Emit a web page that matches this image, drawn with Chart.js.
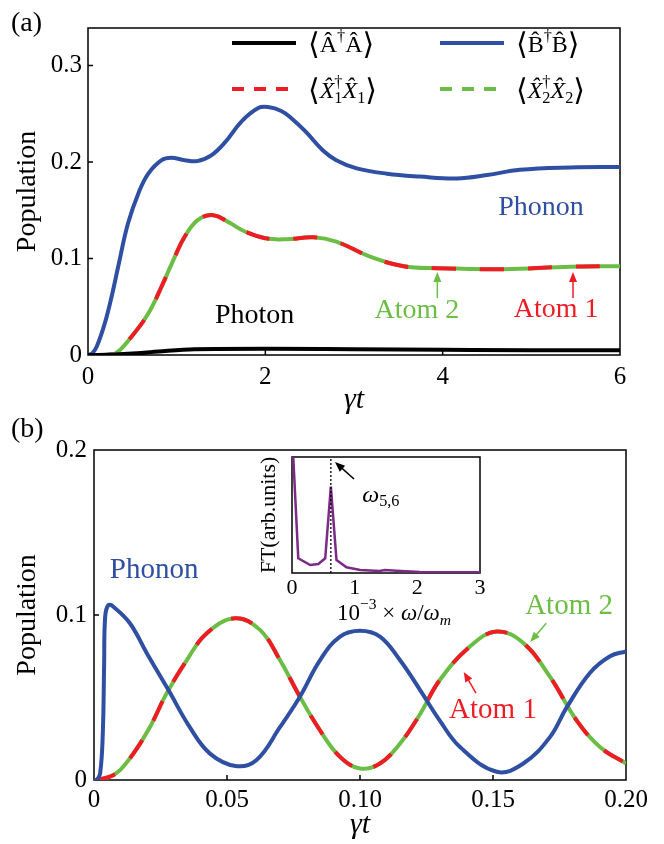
<!DOCTYPE html>
<html>
<head>
<meta charset="utf-8">
<script src="https://cdn.jsdelivr.net/npm/chart.js@4.4.0/dist/chart.umd.min.js"></script>
<style>
  html, body { margin: 0; padding: 0; background: #fff; }
  #page { position: relative; width: 664px; height: 844px; overflow: hidden; }
  .box { position: absolute; }
  .tag { position: absolute; font: 28px 'Liberation Serif', serif; line-height: 28px; color: #000; }
</style>
</head>
<body>
<div id="page">
  <div class="box" style="left:0;top:0"><canvas id="chartA" width="664" height="420"></canvas></div>
  <div class="box" style="left:0;top:420px"><canvas id="chartB" width="664" height="424"></canvas></div>
  <div class="box" style="left:250px;top:450px"><canvas id="chartFT" width="245" height="185"></canvas></div>
  <div class="tag" style="left:11px;top:8px">(a)</div>
  <div class="tag" style="left:11px;top:414px">(b)</div>
</div>
<script>
// ---- panel (a): long-time populations, gamma*t in 0..6
const tPhotonA = [0, 0.3, 0.6, 0.9, 1.2, 2, 3, 4, 5, 6];
const photonA  = [0, 0.0005, 0.002, 0.0045, 0.006, 0.0065, 0.006, 0.0055, 0.005, 0.005];

const tPhononA = [0, 0.05, 0.1, 0.19, 0.27, 0.34, 0.45, 0.57, 0.68, 0.83, 0.94, 1.09, 1.23, 1.39, 1.55, 1.73, 1.92, 2.03, 2.18, 2.3, 2.45, 2.65, 2.8, 3.03, 3.37, 3.74, 4.16, 4.5, 4.87, 5.44, 6];
const phononA  = [0, 0.002, 0.009, 0.033, 0.062, 0.0915, 0.136, 0.168, 0.188, 0.202, 0.2045, 0.202, 0.201, 0.207, 0.221, 0.242, 0.256, 0.257, 0.253, 0.245, 0.232, 0.212, 0.202, 0.1935, 0.188, 0.185, 0.183, 0.1865, 0.192, 0.1945, 0.195];

// both atoms have the same population (red/green dashes on one curve)
const tAtomA = [0, 0.15, 0.3, 0.49, 0.68, 0.83, 0.98, 1.09, 1.24, 1.41, 1.58, 1.77, 2.0, 2.24, 2.54, 2.8, 3.18, 3.56, 3.93, 4.68, 5.44, 6];
const atomA  = [0, 0, 0.001, 0.019, 0.043, 0.071, 0.102, 0.1226, 0.14, 0.145, 0.138, 0.128, 0.121, 0.12, 0.122, 0.1175, 0.102, 0.092, 0.09, 0.089, 0.0915, 0.092];

const xTicksA = [0, 2, 4, 6];
const yTicksA = [0, 0.1, 0.2, 0.3];

// ---- panel (b): short times, gamma*t in 0..0.2
const tPhononB = [0, 0.001, 0.0023, 0.0033, 0.0038, 0.0042, 0.0054, 0.0073, 0.0135, 0.0198, 0.028, 0.036, 0.0436, 0.0532, 0.061, 0.0699, 0.0774, 0.085, 0.0925, 0.1, 0.1075, 0.115, 0.1226, 0.13, 0.1376, 0.1514, 0.1614, 0.1714, 0.1777, 0.1865, 0.194, 0.2];
const phononB  = [0, 0, 0.004, 0.028, 0.069, 0.099, 0.106, 0.105, 0.095, 0.077, 0.0545, 0.032, 0.016, 0.0085, 0.012, 0.032, 0.0505, 0.0727, 0.0869, 0.0905, 0.0869, 0.0727, 0.0545, 0.036, 0.020, 0.005, 0.010, 0.026, 0.044, 0.065, 0.075, 0.078];

const tAtomB = [0, 0.001, 0.006, 0.0098, 0.0148, 0.021, 0.0273, 0.0349, 0.0424, 0.053, 0.0624, 0.0699, 0.0774, 0.085, 0.0925, 0.1, 0.1075, 0.115, 0.1226, 0.13, 0.1414, 0.1514, 0.1614, 0.1714, 0.1815, 0.1902, 0.2];
const atomB  = [0, 0, 0.002, 0.006, 0.016, 0.032, 0.0525, 0.0727, 0.089, 0.098, 0.091, 0.0727, 0.0505, 0.030, 0.014, 0.007, 0.010, 0.022, 0.040, 0.0606, 0.081, 0.090, 0.083, 0.0626, 0.036, 0.020, 0.010];

const xTicksB = [0, 0.05, 0.10, 0.15, 0.20];
const xLabelsB = ['0', '0.05', '0.10', '0.15', '0.20'];
const yTicksB = [0, 0.1, 0.2];

// ---- inset: Fourier transform (arb. units) vs 1e-3 * omega/omega_m
const ftFreq = [0, 0.1, 0.29, 0.42, 0.53, 0.62, 0.71, 0.87, 1.09, 1.4, 1.48, 1.67, 2.04, 3];
const ftAmp  = [1.22, 0.127, 0.069, 0.078, 0.127, 0.744, 0.112, 0.049, 0.026, 0.017, 0.026, 0.02, 0.009, 0.006];
const xTicksFT = [0, 1, 2, 3];
const omega56 = 0.62;

const SERIF = "'Liberation Serif', 'DejaVu Serif', serif";
const BLUE = '#2f4fa2';
const RED = '#ee1c25';
const GREEN = '#6cbd45';
const PURPLE = '#7b2a86';

const pts = (xs, ys) => xs.map((x, i) => ({ x: x, y: ys[i] }));

// text made of pieces: style letters i=italic u=superscript d=subscript z=no advance b=big
function richText(ctx, parts, x, y, size, align, color) {
  const spec = parts.map(([txt, st = '']) => {
    const small = st.includes('u') || st.includes('d');
    const px = st.includes('b') ? size * 1.25 : small ? size * 0.68 : size;
    const font = (st.includes('i') ? 'italic ' : '') + px.toFixed(1) + 'px ' + SERIF;
    ctx.font = font;
    const w = ctx.measureText(txt).width;
    const dy = st.includes('u') ? -0.38 * size : st.includes('d') ? 0.28 * size : 0;
    return { txt, font, dy, adv: st.includes('z') ? 0 : w };
  });
  const total = spec.reduce((s, p) => s + p.adv, 0);
  let cx = align === 'center' ? x - total / 2 : x;
  ctx.fillStyle = color;
  ctx.textBaseline = 'middle';
  ctx.textAlign = 'left';
  spec.forEach(p => { ctx.font = p.font; ctx.fillText(p.txt, cx, y + p.dy); cx += p.adv; });
}

function drawArrow(ctx, x0, y0, x1, y1, color) {
  const ang = Math.atan2(y1 - y0, x1 - x0), head = 10, half = 4;
  const c = Math.cos(ang), s = Math.sin(ang);
  ctx.strokeStyle = color;
  ctx.fillStyle = color;
  ctx.lineWidth = 1.5;
  ctx.setLineDash([]);
  ctx.beginPath();
  ctx.moveTo(x0, y0);
  ctx.lineTo(x1 - head * 0.8 * c, y1 - head * 0.8 * s);
  ctx.stroke();
  ctx.beginPath();
  ctx.moveTo(x1, y1);
  ctx.lineTo(x1 - head * c + half * s, y1 - head * s - half * c);
  ctx.lineTo(x1 - head * c - half * s, y1 - head * s + half * c);
  ctx.closePath();
  ctx.fill();
}

// box around the plot and short inward tick marks
const framePlugin = {
  id: 'frame',
  beforeDatasetsDraw(chart) {
    const { ctx, chartArea: a, scales } = chart;
    ctx.save();
    ctx.strokeStyle = '#000';
    ctx.lineWidth = 1.5;
    ctx.strokeRect(a.left, a.top, a.right - a.left, a.bottom - a.top);
    const len = chart.config.options.tickLen || 0;
    if (len) {
      ctx.beginPath();
      scales.x.ticks.forEach(t => {
        const px = scales.x.getPixelForValue(t.value);
        if (px > a.left + 1 && px < a.right - 1) { ctx.moveTo(px, a.bottom); ctx.lineTo(px, a.bottom - len); }
      });
      scales.y.ticks.forEach(t => {
        const py = scales.y.getPixelForValue(t.value);
        if (py > a.top + 1 && py < a.bottom - 1) { ctx.moveTo(a.left, py); ctx.lineTo(a.left + len, py); }
      });
      ctx.stroke();
    }
    ctx.restore();
  }
};

// text labels and arrows placed in data coordinates
function notesPlugin(notes) {
  return {
    id: 'notes',
    afterDatasetsDraw(chart) {
      const { ctx, chartArea: a, scales: { x, y } } = chart;
      ctx.save();
      (notes.vlines || []).forEach(v => {
        ctx.strokeStyle = '#000';
        ctx.lineWidth = 1.3;
        ctx.setLineDash([2, 2]);
        ctx.beginPath();
        ctx.moveTo(x.getPixelForValue(v), a.bottom);
        ctx.lineTo(x.getPixelForValue(v), a.top);
        ctx.stroke();
      });
      (notes.arrows || []).forEach(r => drawArrow(ctx,
        x.getPixelForValue(r.x0), y.getPixelForValue(r.y0),
        x.getPixelForValue(r.x1), y.getPixelForValue(r.y1), r.color));
      (notes.texts || []).forEach(t => richText(ctx, t.parts,
        x.getPixelForValue(t.x), y.getPixelForValue(t.y), t.size, t.align || 'center', t.color));
      if (notes.caption) {
        const c = notes.caption;
        richText(ctx, c.parts, (a.left + a.right) / 2 + c.dx, a.bottom + c.dy, c.size, 'center', '#000');
      }
      ctx.restore();
    }
  };
}

// two-column legend inside panel (a)
const legendParts = [
  [['⟨', 'b'], ['Â'], ['†', 'u'], ['Â'], ['⟩', 'b']],
  [['⟨', 'b'], ['B\u0302'], ['†', 'u'], ['B\u0302'], ['⟩', 'b']],
  [['⟨', 'b'], ['X\u0302', 'i'], ['†', 'uz'], ['1', 'd'], ['X\u0302', 'i'], ['1', 'd'], ['⟩', 'b']],
  [['⟨', 'b'], ['X\u0302', 'i'], ['†', 'uz'], ['2', 'd'], ['X\u0302', 'i'], ['2', 'd'], ['⟩', 'b']]
];
const legendPlugin = {
  id: 'legendBox',
  afterDraw(chart) {
    const { ctx, chartArea: a } = chart;
    ctx.save();
    chart.data.datasets.forEach((ds, i) => {
      const row = Math.floor(i / 2), col = i % 2;
      const lx = a.left + 144 + col * 208, ly = a.top + 15 + row * 46;
      ctx.strokeStyle = ds.borderColor;
      ctx.lineWidth = 4;
      ctx.setLineDash(row === 1 ? [12, 10] : []);
      ctx.beginPath();
      ctx.moveTo(lx, ly);
      ctx.lineTo(lx + (row === 1 ? 56 : 64), ly);
      ctx.stroke();
      ctx.setLineDash([]);
      richText(ctx, legendParts[i], lx + 76, ly + 3, 24, 'left', '#000');
    });
    ctx.restore();
  }
};

function axisX(min, max, ticks, labels, height, pad, titlePad) {
  return {
    type: 'linear', min: min, max: max,
    afterFit: s => { s.height = height; },
    afterBuildTicks: s => { s.ticks = ticks.map(v => ({ value: v })); },
    grid: { display: false, drawTicks: false },
    border: { display: false },
    ticks: {
      font: { family: SERIF, size: 25 }, color: '#000', padding: pad,
      maxRotation: 0, autoSkip: false,
      callback: (v, i) => labels ? labels[i] : String(v)
    },
    title: {
      display: true, text: 'γt', color: '#000',
      font: { family: SERIF, size: 30, style: 'italic', lineHeight: 1 },
      padding: { top: 0, bottom: titlePad }
    }
  };
}

function axisY(min, max, ticks, width, pad) {
  return {
    min: min, max: max,
    afterFit: s => { s.width = width; },
    afterBuildTicks: s => { s.ticks = ticks.map(v => ({ value: v })); },
    grid: { display: false, drawTicks: false },
    border: { display: false },
    ticks: {
      font: { family: SERIF, size: 25 }, color: '#000', padding: pad,
      callback: v => v === 0 ? '0' : v.toFixed(1)
    },
    title: {
      display: true, text: 'Population', color: '#000',
      font: { family: SERIF, size: 28 },
      padding: { top: 11, bottom: 0 }
    }
  };
}

const lineDefaults = {
  animation: false,
  responsive: false,
  elements: { point: { radius: 0 }, line: { tension: 0.4, borderCapStyle: 'butt' } },
  plugins: { legend: { display: false }, tooltip: { enabled: false } }
};

// panel (a)
new Chart(document.getElementById('chartA'), {
  type: 'line',
  data: {
    datasets: [
      { label: 'photon', data: pts(tPhotonA, photonA), borderColor: '#000', borderWidth: 4, cubicInterpolationMode: 'monotone' },
      { label: 'phonon', data: pts(tPhononA, phononA), borderColor: BLUE, borderWidth: 4 },
      { label: 'atom 1', data: pts(tAtomA, atomA), borderColor: RED, borderWidth: 4, borderDash: [24, 24] },
      { label: 'atom 2', data: pts(tAtomA, atomA), borderColor: GREEN, borderWidth: 4 }
    ]
  },
  options: Object.assign({}, lineDefaults, {
    tickLen: 5,
    layout: { padding: { top: 28, right: 44, bottom: 0, left: 0 } },
    scales: {
      x: axisX(0, 6, xTicksA, null, 65, 7.5, 5),
      y: axisY(0, 0.339, yTicksA, 88, 6)
    }
  }),
  plugins: [framePlugin, legendPlugin, notesPlugin({
    texts: [
      { parts: [['Phonon']], x: 5.11, y: 0.153, size: 28, color: BLUE },
      { parts: [['Photon']], x: 1.88, y: 0.041, size: 28, color: '#000' },
      { parts: [['Atom 2']], x: 3.71, y: 0.0456, size: 28, color: GREEN },
      { parts: [['Atom 1']], x: 5.28, y: 0.0466, size: 28, color: RED }
    ],
    arrows: [
      { x0: 3.94, y0: 0.059, x1: 3.94, y1: 0.086, color: GREEN },
      { x0: 5.47, y0: 0.059, x1: 5.47, y1: 0.086, color: RED }
    ]
  })]
});

// panel (b)
new Chart(document.getElementById('chartB'), {
  type: 'line',
  data: {
    datasets: [
      { label: 'phonon', data: pts(tPhononB, phononB), borderColor: BLUE, borderWidth: 4 },
      { label: 'atom 1', data: pts(tAtomB, atomB), borderColor: RED, borderWidth: 4, borderDash: [22, 22] },
      { label: 'atom 2', data: pts(tAtomB, atomB), borderColor: GREEN, borderWidth: 4 }
    ]
  },
  options: Object.assign({}, lineDefaults, {
    tickLen: 5,
    layout: { padding: { top: 30, right: 38, bottom: 0, left: 0 } },
    scales: {
      x: axisX(0, 0.2, xTicksB, xLabelsB, 64, 5, 4),
      y: axisY(0, 0.2, yTicksB, 94, 7)
    }
  }),
  plugins: [framePlugin, notesPlugin({
    texts: [
      { parts: [['Phonon']], x: 0.0226, y: 0.127, size: 29, color: BLUE },
      { parts: [['Atom 2']], x: 0.1786, y: 0.105, size: 29, color: GREEN },
      { parts: [['Atom 1']], x: 0.150, y: 0.042, size: 29, color: RED }
    ],
    arrows: [
      { x0: 0.170, y0: 0.095, x1: 0.164, y1: 0.0836, color: GREEN },
      { x0: 0.1436, y0: 0.0527, x1: 0.139, y1: 0.0655, color: RED }
    ]
  })]
});

// inset
new Chart(document.getElementById('chartFT'), {
  type: 'line',
  data: {
    datasets: [
      { label: 'FT', data: pts(ftFreq, ftAmp), borderColor: PURPLE, borderWidth: 2.5, tension: 0 }
    ]
  },
  options: Object.assign({}, lineDefaults, {
    tickLen: 0,
    layout: { padding: { top: 7, right: 15, bottom: 0, left: 0 } },
    scales: {
      x: {
        type: 'linear', min: 0, max: 3,
        afterFit: s => { s.height = 62; },
        afterBuildTicks: s => { s.ticks = xTicksFT.map(v => ({ value: v })); },
        grid: { display: false, drawTicks: false },
        border: { display: false },
        ticks: { font: { family: SERIF, size: 22 }, color: '#000', padding: 2, maxRotation: 0, autoSkip: false }
      },
      y: {
        min: 0, max: 1,
        afterFit: s => { s.width = 42; },
        grid: { display: false, drawTicks: false },
        border: { display: false },
        ticks: { display: false },
        title: {
          display: true, text: 'FT(arb.units)', color: '#000',
          font: { family: SERIF, size: 22 },
          padding: { top: 6, bottom: 0 }
        }
      }
    }
  }),
  plugins: [framePlugin, notesPlugin({
    vlines: [omega56],
    arrows: [{ x0: 0.99, y0: 0.81, x1: 0.686, y1: 0.957, color: '#000' }],
    texts: [{ parts: [['ω', 'i'], ['5,6', 'd']], x: 1.12, y: 0.67, size: 24, align: 'left', color: '#000' }],
    caption: {
      parts: [['10'], ['−3', 'u'], [' × '], ['ω', 'i'], ['/'], ['ω', 'i'], ['m', 'id']],
      dx: 8, dy: 41, size: 23
    }
  })]
});
</script>
</body>
</html>
